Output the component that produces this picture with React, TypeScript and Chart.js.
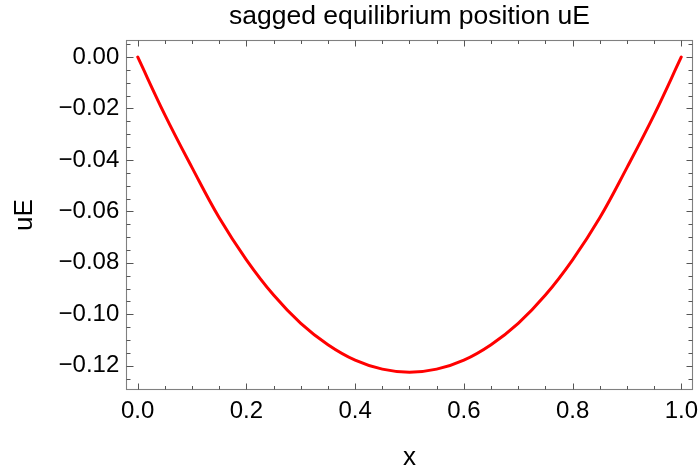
import React, { useEffect, useRef } from "react";
import { Chart, registerables } from "chart.js";

Chart.register(...registerables);

const xValues = [0, 0.05, 0.1, 0.15, 0.2, 0.25, 0.3, 0.35, 0.4, 0.45, 0.5, 0.55, 0.6, 0.65, 0.7, 0.75, 0.8, 0.85, 0.9, 0.95, 1.0];
const uEValues = [0, -0.0225, -0.043, -0.0625, -0.0788, -0.0925, -0.1035, -0.1118, -0.1178, -0.1213, -0.1225, -0.1213, -0.1178, -0.1118, -0.1035, -0.0925, -0.0788, -0.0625, -0.043, -0.0225, 0];

const xTicks = [0, 0.2, 0.4, 0.6, 0.8, 1.0];
const yTicks = [-0.12, -0.1, -0.08, -0.06, -0.04, -0.02, 0];
const xMinorTicks = [0, 0.05, 0.1, 0.15, 0.2, 0.25, 0.3, 0.35, 0.4, 0.45, 0.5, 0.55, 0.6, 0.65, 0.7, 0.75, 0.8, 0.85, 0.9, 0.95, 1.0];
const yMinorTicks = [-0.125, -0.12, -0.115, -0.11, -0.105, -0.1, -0.095, -0.09, -0.085, -0.08, -0.075, -0.07, -0.065, -0.06, -0.055, -0.05, -0.045, -0.04, -0.035, -0.03, -0.025, -0.02, -0.015, -0.01, -0.005, 0, 0.005];

const titleText = "sagged equilibrium position uE";
const xLabel = "x";
const yLabel = "uE";

const FONT = "'Liberation Sans', Arial, Helvetica, sans-serif";

const framePlugin = {
  id: "mmaFrame",
  beforeDatasetsDraw(chart: any) {
    const { ctx, chartArea } = chart;
    const xs = chart.scales.x;
    const ys = chart.scales.y;
    const L = chartArea.left + 0.5;
    const R = chartArea.right - 0.5;
    const T = chartArea.top + 0.5;
    const B = chartArea.bottom - 0.5;
    ctx.save();
    ctx.strokeStyle = "#808080";
    ctx.lineWidth = 1.1;
    ctx.strokeRect(L, T, R - L, B - T);
    ctx.strokeStyle = "#555555";
    ctx.lineWidth = 1;
    ctx.beginPath();
    const isMajor = (v: number, arr: number[]) => arr.some((m) => Math.abs(m - v) < 1e-9);
    for (const v of xMinorTicks) {
      const px = Math.round(xs.getPixelForValue(v)) + 0.5;
      const len = isMajor(v, xTicks) ? 6 : 3.5;
      ctx.moveTo(px, B);
      ctx.lineTo(px, B - len);
      ctx.moveTo(px, T);
      ctx.lineTo(px, T + len);
    }
    for (const v of yMinorTicks) {
      const py = Math.round(ys.getPixelForValue(v)) + 0.5;
      const major = isMajor(v, yTicks);
      ctx.moveTo(L, py);
      ctx.lineTo(L + (major ? 7 : 4), py);
      ctx.moveTo(R, py);
      ctx.lineTo(R - (major ? 6 : 4), py);
    }
    ctx.stroke();
    ctx.restore();
  },
  afterDraw(chart: any) {
    const { ctx, chartArea } = chart;
    ctx.save();
    ctx.fillStyle = "#000";
    ctx.font = `26.5px ${FONT}`;
    ctx.textAlign = "center";
    ctx.textBaseline = "alphabetic";
    ctx.fillText(titleText, (chartArea.left + chartArea.right) / 2, 23.5);
    ctx.restore();
  },
};

export default function App() {
  const ref = useRef<HTMLCanvasElement | null>(null);
  useEffect(() => {
    if (!ref.current) return;
    const chart = new Chart(ref.current, {
      type: "line",
      data: {
        datasets: [
          {
            label: "uE",
            data: xValues.map((x, i) => ({ x, y: uEValues[i] })),
            borderColor: "#ff0000",
            borderWidth: 3,
            pointRadius: 0,
            tension: 0.4,
            borderCapStyle: "round",
            borderJoinStyle: "round",
            fill: false,
          },
        ],
      },
      options: {
        animation: false,
        responsive: false,
        devicePixelRatio: 1,
        layout: { padding: { top: 40, right: 6, bottom: 0, left: 0 } },
        plugins: {
          legend: { display: false },
          title: { display: false },
          tooltip: { enabled: false },
        },
        scales: {
          x: {
            type: "linear",
            min: -0.0215,
            max: 1.0215,
            grid: { display: false, drawTicks: false },
            border: { display: false },
            afterBuildTicks: (scale: any) => {
              scale.ticks = xTicks.map((v) => ({ value: v }));
            },
            afterFit: (scale: any) => {
              scale.height = 83;
              scale.paddingLeft = 0;
              scale.paddingRight = 0;
            },
            ticks: {
              color: "#000",
              padding: 7,
              maxRotation: 0,
              autoSkip: false,
              font: { family: FONT, size: 24 },
              callback: (v: any) => Number(v).toFixed(1),
            },
            title: {
              display: true,
              text: xLabel,
              color: "#000",
              font: { family: FONT, size: 26 },
              padding: { top: 4, bottom: 0 },
            },
          },
          y: {
            type: "linear",
            min: -0.1294,
            max: 0.0066,
            grid: { display: false, drawTicks: false },
            border: { display: false },
            afterBuildTicks: (scale: any) => {
              scale.ticks = yTicks.map((v) => ({ value: v }));
            },
            afterFit: (scale: any) => {
              scale.width = 126;
              scale.paddingTop = 0;
              scale.paddingBottom = 0;
            },
            ticks: {
              color: "#000",
              padding: 6.7,
              autoSkip: false,
              font: { family: FONT, size: 24 },
              callback: (v: any) => {
                const n = Number(v);
                if (Math.abs(n) < 1e-9) return "0.00";
                return (n < 0 ? "\u2212" : "") + Math.abs(n).toFixed(2);
              },
            },
            title: {
              display: true,
              text: yLabel,
              color: "#000",
              font: { family: FONT, size: 26 },
              padding: { top: 9, bottom: 0 },
            },
          },
        },
      },
      plugins: [framePlugin],
    } as any);
    return () => chart.destroy();
  }, []);
  return (
    <div style={{ position: "absolute", left: 0, top: 0, width: 699, height: 473, background: "#fff" }}>
      <canvas ref={ref} width={699} height={473} style={{ display: "block" }} />
    </div>
  );
}
